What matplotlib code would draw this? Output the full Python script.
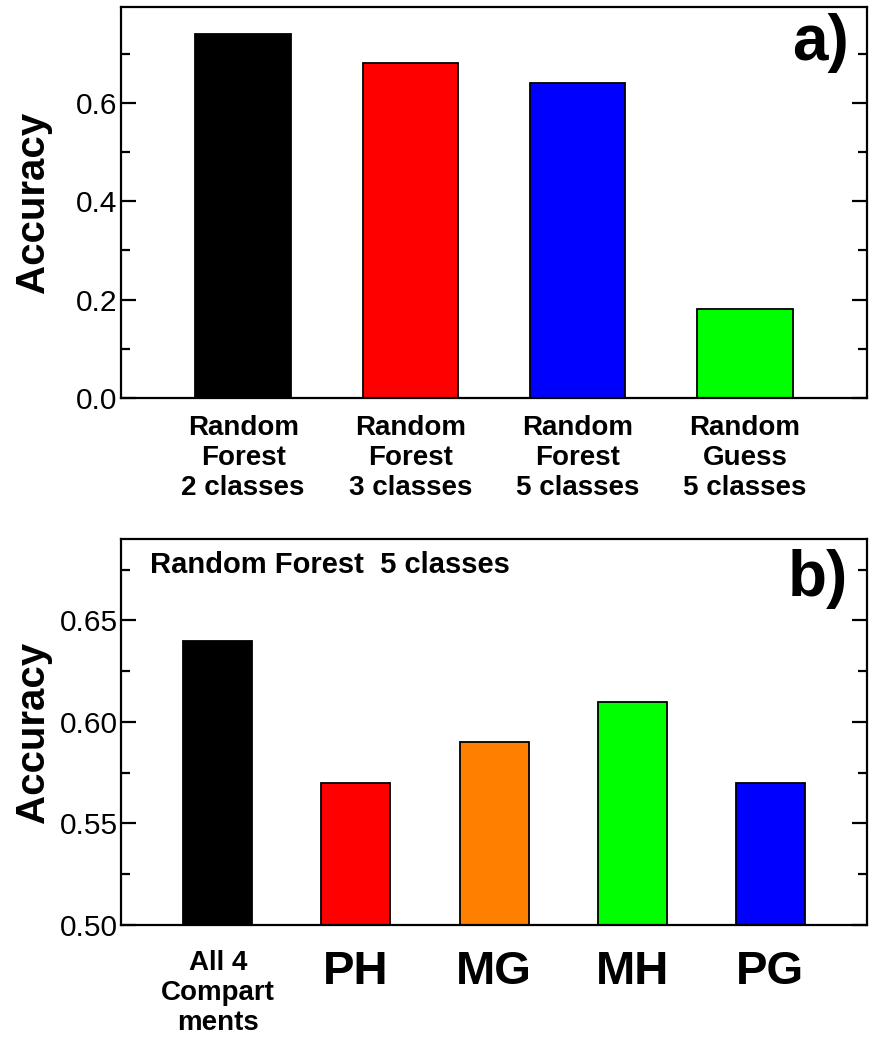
import matplotlib
matplotlib.use('Agg')
import matplotlib.pyplot as plt
import numpy as np

plt.rcParams['font.family'] = ['Liberation Sans', 'DejaVu Sans']

# panel a) data
labels_a = ['Random\nForest\n2 classes', 'Random\nForest\n3 classes',
            'Random\nForest\n5 classes', 'Random\nGuess\n5 classes']
acc_a = [0.74, 0.68, 0.64, 0.18]
colors_a = ['#000000', '#ff0000', '#0000ff', '#00ff00']

# panel b) data
labels_b = ['All 4\nCompart\nments', 'PH', 'MG', 'MH', 'PG']
acc_b = [0.64, 0.57, 0.59, 0.61, 0.57]
colors_b = ['#000000', '#ff0000', '#ff8000', '#00ff00', '#0000ff']

fig = plt.figure(figsize=(8.79, 10.5), dpi=100)
ax1 = fig.add_axes([0.1377, 0.6210, 0.8487, 0.3724])
ax2 = fig.add_axes([0.1377, 0.1190, 0.8487, 0.3676])


def style_axis(ax):
    for s in ax.spines.values():
        s.set_linewidth(1.6)
    ax.tick_params(axis='y', which='major', direction='in', length=11, width=1.6,
                   right=True, labelsize=21.5, pad=2.5)
    ax.tick_params(axis='y', which='minor', direction='in', length=6.5, width=1.6,
                   right=True)
    ax.tick_params(axis='x', which='both', length=0)
    ax.set_ylabel('Accuracy', fontsize=29, fontweight='bold')
    ax.yaxis.set_label_coords(-0.092, 0.5)


# --- a) ---
x_a = np.arange(len(acc_a))
ax1.bar(x_a, acc_a, width=0.57, color=colors_a, edgecolor='black', linewidth=1.3)
ax1.set_xlim(-0.73, 3.73)
ax1.set_ylim(0, 0.795)
ax1.set_yticks([0.0, 0.2, 0.4, 0.6])
ax1.set_yticks([0.1, 0.3, 0.5, 0.7], minor=True)
ax1.set_yticklabels(['0.0', '0.2', '0.4', '0.6'])
ax1.set_xticks(x_a)
ax1.set_xticklabels(labels_a, fontsize=20, fontweight='bold')
style_axis(ax1)
ax1.tick_params(axis='x', pad=12)
ax1.text(0.975, 0.985, 'a)', transform=ax1.transAxes, ha='right', va='top',
         fontsize=46, fontweight='bold')

# --- b) ---
x_b = np.arange(len(acc_b))
ax2.bar(x_b, acc_b, width=0.5, color=colors_b, edgecolor='black', linewidth=1.3)
ax2.set_xlim(-0.7, 4.7)
ax2.set_ylim(0.5, 0.69)
ax2.set_yticks([0.50, 0.55, 0.60, 0.65])
ax2.set_yticks([0.525, 0.575, 0.625, 0.675], minor=True)
ax2.set_yticklabels(['0.50', '0.55', '0.60', '0.65'])
ax2.set_xticks(x_b)
ax2.set_xticklabels(labels_b, fontweight='bold')
for i, t in enumerate(ax2.get_xticklabels()):
    t.set_fontsize(20 if i == 0 else 34)
style_axis(ax2)
ax2.tick_params(axis='x', pad=18)
ax2.text(0.039, 0.968, 'Random Forest  5 classes', transform=ax2.transAxes,
         ha='left', va='top', fontsize=21, fontweight='bold')
ax2.text(0.975, 0.975, 'b)', transform=ax2.transAxes, ha='right', va='top',
         fontsize=46, fontweight='bold')

fig.savefig('out.png', dpi=100)
